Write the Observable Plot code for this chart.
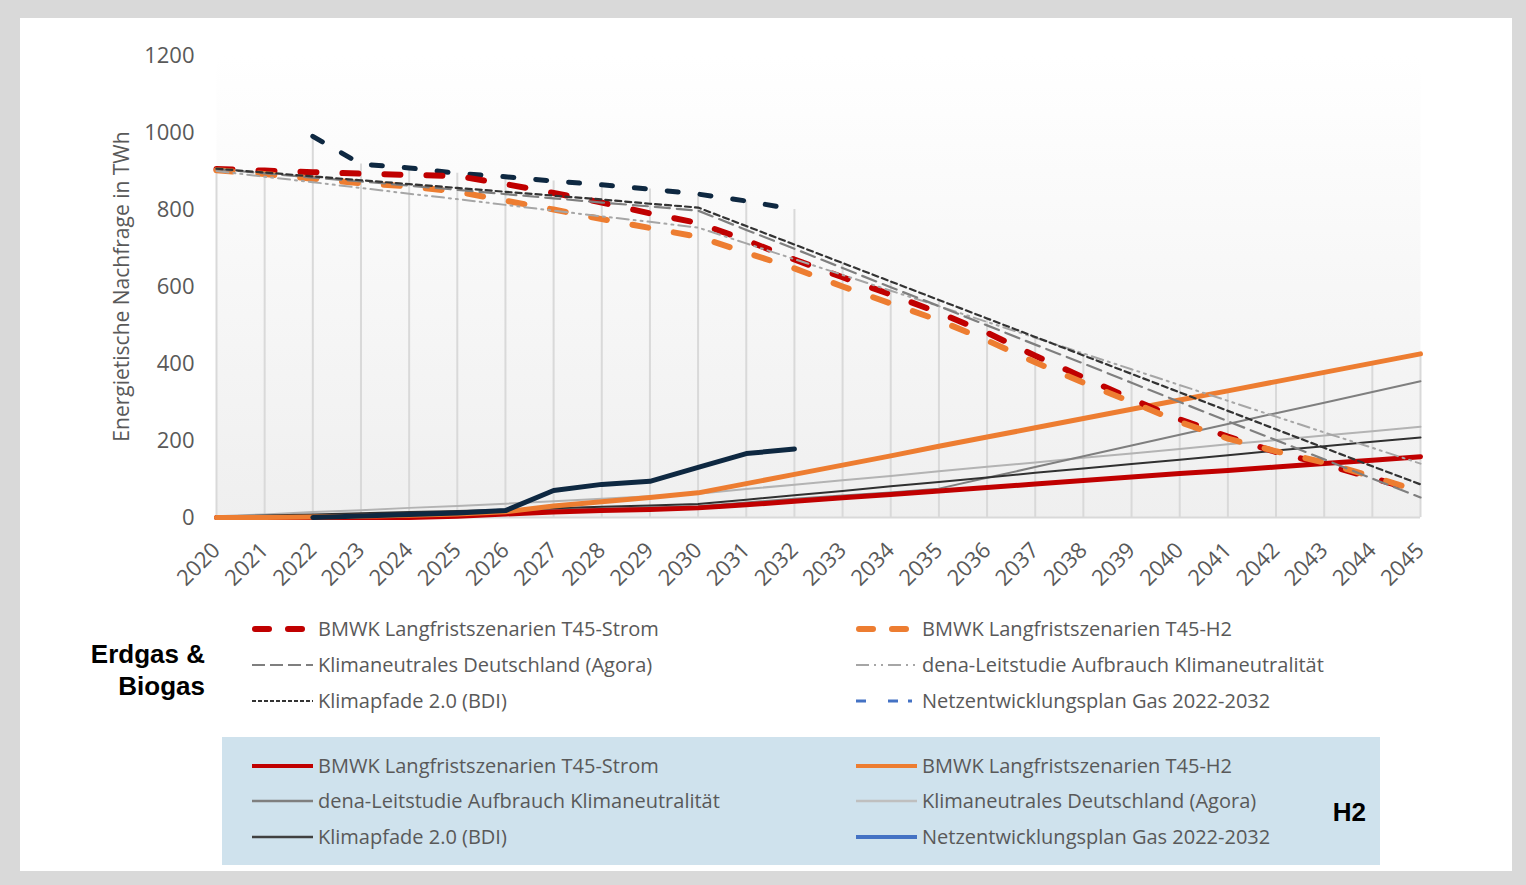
<!DOCTYPE html>
<html>
<head>
<meta charset="utf-8">
<script src="https://cdn.jsdelivr.net/npm/d3@7"></script>
<script src="https://cdn.jsdelivr.net/npm/@observablehq/plot@0.6"></script>
<style>
  html, body { margin: 0; padding: 0; background: #d9d9d9; }
  #page { position: relative; width: 1526px; height: 885px; overflow: hidden; font-family: "Open Sans", sans-serif; }
  #card { position: absolute; left: 20px; top: 18px; width: 1492px; height: 853px; background: #ffffff; }
  #chart { position: absolute; left: 0; top: 0; }
  .item { position: absolute; height: 26px; display: flex; align-items: center; white-space: nowrap; }
  .item span { font-size: 20px; color: #595959; line-height: 26px; }
  .item svg { display: block; flex: none; }
  .hdr { position: absolute; font-family: "Liberation Sans", Arial, sans-serif; font-weight: bold; font-size: 26px; color: #000; line-height: 32px; white-space: nowrap; }
  #h2box { position: absolute; left: 222px; top: 737px; width: 1158px; height: 128px; background: #cfe2ed; }
</style>
</head>
<body>
<div id="page">
  <div id="card"></div>
  <div id="h2box"></div>
  <div id="chart"></div>
  <div id="legend"></div>
</div>
<script>
// ---------- DATA ----------
const years = [2020, 2021, 2022, 2023, 2024, 2025, 2026, 2027, 2028, 2029, 2030, 2031, 2032,
               2033, 2034, 2035, 2036, 2037, 2038, 2039, 2040, 2041, 2042, 2043, 2044, 2045];
const yTicks = [0, 200, 400, 600, 800, 1000, 1200];
const yLabel = "Energietische Nachfrage in TWh";

// Erdgas & Biogas
const gasStrom = [905, 901, 897, 893, 890, 887, 866, 843, 818, 790, 765, 720, 670, 624, 579, 532, 480, 420, 364, 308, 255, 210, 170, 138, 103, 66];
const gasH2    = [902, 892, 880, 868, 860, 846, 823, 800, 775, 752, 729, 688, 647, 600, 556, 512, 460, 403, 350, 300, 248, 205, 172, 143, 106, 68];
const gasAgora = [905, 894, 883, 873, 862, 851, 840, 829, 818, 808, 797, 747, 698, 648, 598, 549, 499, 449, 400, 350, 300, 250, 201, 151, 101, 52];
const gasDena  = [900, 885, 871, 856, 841, 827, 812, 797, 782, 768, 753, 712, 671, 630, 589, 549, 508, 467, 426, 385, 344, 303, 262, 221, 181, 140];
const gasBDI   = [906, 896, 886, 876, 866, 856, 846, 836, 826, 815, 805, 757, 709, 661, 613, 565, 517, 469, 421, 373, 325, 277, 229, 181, 133, 86];
const gasNEP   = [null, null, 990, 918, 908, 894, 885, 874, 864, 853, 840, 822, 800,
                  null, null, null, null, null, null, null, null, null, null, null, null, null];

// H2
const h2Strom = [0, 0, 0, 0, 0, 3, 9, 14, 18, 21, 25, 33, 42, 51, 60, 69, 78, 87, 96, 105, 114, 122, 131, 140, 149, 158];
const h2H2    = [0, 0, 1, 3, 6, 9, 15, 30, 41, 52, 64, 88, 112, 136, 160, 185, 209, 233, 257, 281, 305, 329, 353, 377, 401, 425];
const h2Dena  = [2, 4, 6, 8, 10, 13, 17, 20, 23, 26, 29, 39, 49, 57, 65, 75, 103, 131, 159, 187, 215, 243, 271, 298, 326, 354];
const h2Agora = [3, 8, 14, 19, 25, 30, 36, 42, 49, 55, 62, 74, 85, 97, 108, 120, 132, 143, 155, 166, 178, 190, 201, 213, 224, 236];
const h2BDI   = [3, 5, 8, 11, 14, 17, 20, 24, 28, 31, 35, 46, 58, 69, 81, 92, 104, 116, 127, 139, 150, 162, 174, 185, 197, 208];
const h2NEP   = [null, null, 0, 4, 8, 12, 18, 70, 86, 94, 130, 166, 178,
                 null, null, null, null, null, null, null, null, null, null, null, null, null];

const labelStrom = "BMWK Langfristszenarien T45-Strom";
const labelH2 = "BMWK Langfristszenarien T45-H2";
const labelAgora = "Klimaneutrales Deutschland (Agora)";
const labelDena = "dena-Leitstudie Aufbrauch Klimaneutralität";
const labelBDI = "Klimapfade 2.0 (BDI)";
const labelNEP = "Netzentwicklungsplan Gas 2022-2032";

// ---------- STYLES (drawing order) ----------
const seriesDefs = [
  // H2 solid lines
  {values: h2Agora, stroke: "#b3b3b3", w: 2},
  {values: h2Dena,  stroke: "#7f7f7f", w: 2},
  {values: h2BDI,   stroke: "#303030", w: 2},
  {values: h2Strom, stroke: "#c00000", w: 5},
  {values: h2H2,    stroke: "#ed7d31", w: 5},
  {values: h2NEP,   stroke: "#0e2841", w: 5},
  // gas dashed lines
  {values: gasNEP,   stroke: "#0e2841", w: 5, dash: "11 22"},
  {values: gasStrom, stroke: "#c00000", w: 6, dash: "16 26"},
  {values: gasH2,    stroke: "#ed7d31", w: 6, dash: "16 26"},
  {values: gasDena,  stroke: "#a6a6a6", w: 2, dash: "12 5 2 5 2 5"},
  {values: gasAgora, stroke: "#7f7f7f", w: 2.2, dash: "15 7"},
  {values: gasBDI,   stroke: "#333333", w: 2.2, dash: "6 4"}
];

const allSeries = [gasStrom, gasH2, gasAgora, gasDena, gasBDI, gasNEP, h2Strom, h2H2, h2Dena, h2Agora, h2BDI, h2NEP];
const dropData = years.map((year, i) => ({
  year,
  top: d3.max(allSeries, s => s[i] == null ? undefined : s[i])
}));

const lineMarks = seriesDefs.map(def => {
  const rows = years.map((year, i) => ({year, value: def.values[i]})).filter(r => r.value != null);
  return Plot.line(rows, {
    x: "year", y: "value",
    stroke: def.stroke, strokeWidth: def.w,
    strokeDasharray: def.dash,
    strokeLinecap: "round", strokeLinejoin: "round"
  });
});

const chart = Plot.plot({
  width: 1526, height: 600,
  marginLeft: 216, marginRight: 106, marginTop: 55, marginBottom: 83,
  x: {domain: [2020, 2045]},
  y: {domain: [0, 1200]},
  style: {background: "transparent", fontFamily: "'Open Sans', sans-serif", overflow: "visible"},
  marks: [
    Plot.frame({fill: "url(#bgGrad)", stroke: "none"}),
    Plot.ruleX(dropData, {x: "year", y1: 0, y2: "top", stroke: "#d9d9d9", strokeWidth: 2}),
    Plot.ruleY([0], {stroke: "#d9d9d9", strokeWidth: 2}),
    ...lineMarks,
    Plot.axisX({ticks: years, tickFormat: d => String(d), tickRotate: -45, tickSize: 0, tickPadding: 29,
                fontSize: 22, fill: "#595959", label: null}),
    Plot.axisY({ticks: yTicks, tickFormat: d => String(d), tickSize: 0, tickPadding: 22,
                fontSize: 22, fill: "#595959", label: null}),
    Plot.text([yLabel], {text: d => d, frameAnchor: "left", textAnchor: "middle", rotate: -90, dx: -94,
                         fontSize: 21, fill: "#595959"})
  ]
});

// gradient background for plot area
const defs = d3.create("svg:defs");
const grad = defs.append("linearGradient").attr("id", "bgGrad").attr("x1", 0).attr("y1", 0).attr("x2", 0).attr("y2", 1);
grad.append("stop").attr("offset", "0%").attr("stop-color", "#ffffff");
grad.append("stop").attr("offset", "100%").attr("stop-color", "#efefef");
chart.prepend(defs.node());
document.getElementById("chart").appendChild(chart);

// ---------- LEGENDS ----------
const legend = document.getElementById("legend");
const colX = [252, 856], textX = [318, 922];
const legendItems = [
  // gas
  {label: labelStrom, col: 0, y: 629, stroke: "#c00000", w: 6, dash: "14 19", x1: 3, x2: 51, cap: "round"},
  {label: labelH2,    col: 1, y: 629, stroke: "#ed7d31", w: 6, dash: "14 19", x1: 3, x2: 51, cap: "round"},
  {label: labelAgora, col: 0, y: 665, stroke: "#7f7f7f", w: 2, dash: "13 5", x1: 0, x2: 61},
  {label: labelDena,  col: 1, y: 665, stroke: "#a6a6a6", w: 2, dash: "13 5 2 5 2 5", x1: 0, x2: 60},
  {label: labelBDI,   col: 0, y: 701, stroke: "#333333", w: 2, dash: "4 2", x1: 0, x2: 61},
  {label: labelNEP,   col: 1, y: 701, stroke: "#4472c4", w: 3, dash: "10 22 10 10 4 30", x1: 0, x2: 61},
  // H2
  {label: labelStrom, col: 0, y: 766, stroke: "#c00000", w: 4, x1: 0, x2: 61},
  {label: labelH2,    col: 1, y: 766, stroke: "#ed7d31", w: 4, x1: 0, x2: 61},
  {label: labelDena,  col: 0, y: 801, stroke: "#7f7f7f", w: 2.5, x1: 0, x2: 61},
  {label: labelAgora, col: 1, y: 801, stroke: "#bfbfbf", w: 2.5, x1: 0, x2: 61},
  {label: labelBDI,   col: 0, y: 837, stroke: "#404040", w: 2.5, x1: 0, x2: 61},
  {label: labelNEP,   col: 1, y: 837, stroke: "#4472c4", w: 4, x1: 0, x2: 61}
];
for (const it of legendItems) {
  const div = document.createElement("div");
  div.className = "item";
  div.style.left = colX[it.col] + "px";
  div.style.top = (it.y - 13) + "px";
  const sw = textX[it.col] - colX[it.col];
  div.innerHTML = `<svg width="${sw}" height="26"><line x1="${it.x1}" x2="${it.x2}" y1="13" y2="13" stroke="${it.stroke}" stroke-width="${it.w}" ${it.dash ? `stroke-dasharray="${it.dash}"` : ""} stroke-linecap="${it.cap || "butt"}"/></svg><span>${it.label}</span>`;
  legend.appendChild(div);
}
const headers = [
  {text: "Erdgas &", right: 205, y: 654},
  {text: "Biogas", right: 205, y: 686},
  {text: "H2", right: 1366, y: 812}
];
for (const h of headers) {
  const d = document.createElement("div");
  d.className = "hdr";
  d.textContent = h.text;
  d.style.right = (1526 - h.right) + "px";
  d.style.top = (h.y - 16) + "px";
  legend.appendChild(d);
}
</script>
</body>
</html>
